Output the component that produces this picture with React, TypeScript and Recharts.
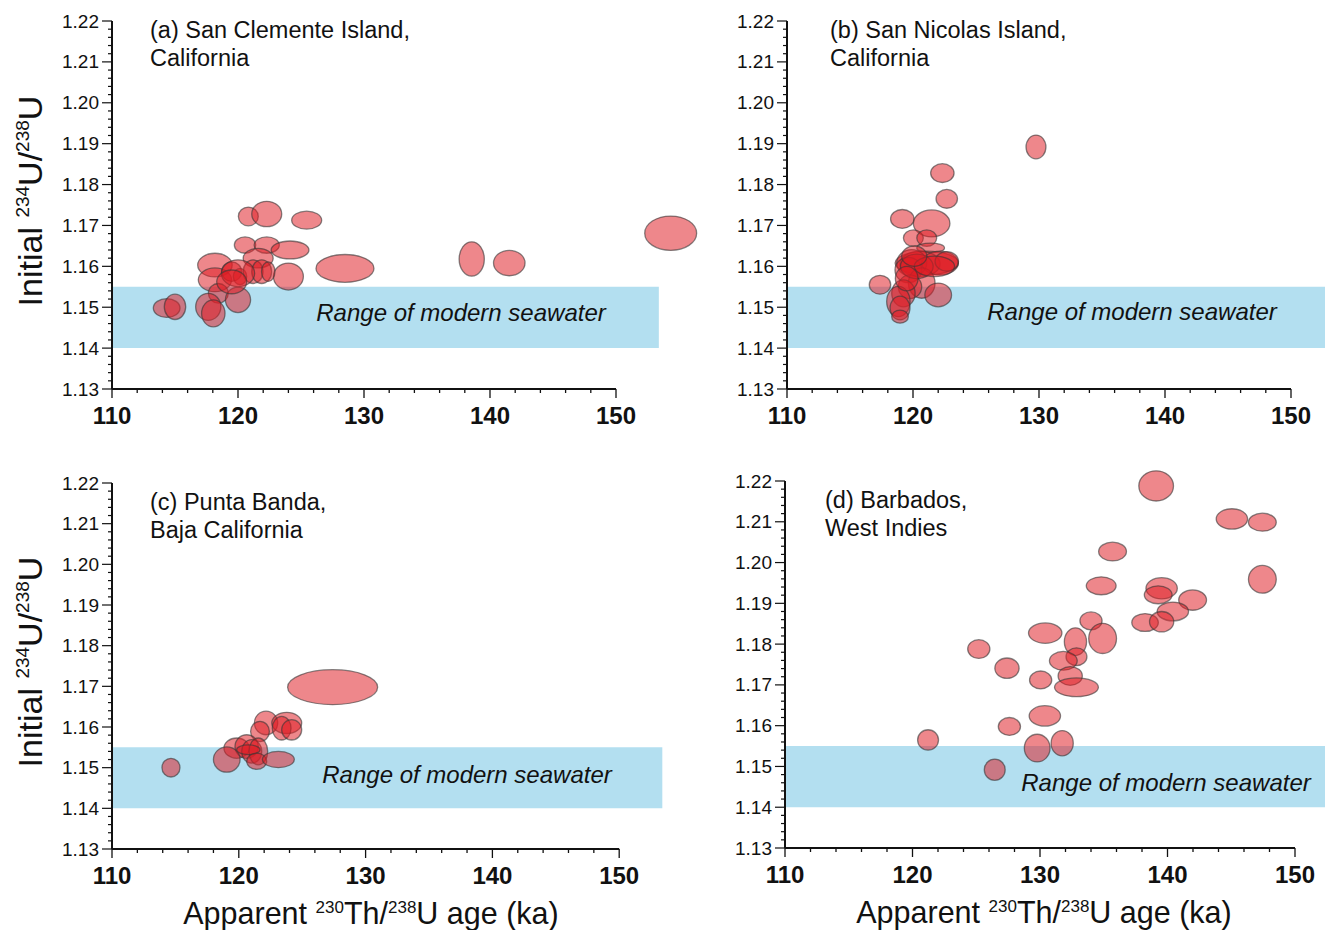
import React from 'react';
import { ScatterChart, Scatter, XAxis, YAxis, ReferenceArea, ReferenceLine, Label } from 'recharts';

// ---------- data (ages in ka, initial 234U/238U, half-widths of ellipses) ----------
const aAge = [120.82, 122.28, 125.45, 120.56, 122.28, 124.13, 128.49, 118.17, 121.6, 124.0, 118.17, 119.5, 120.16, 121.2, 121.88, 122.4, 120.0, 118.44, 120.0, 114.34, 115.0, 117.64, 118.04, 119.5, 138.55, 141.53, 154.34];
const aRatio = [1.1722, 1.1728, 1.1713, 1.1652, 1.1652, 1.164, 1.1595, 1.1603, 1.162, 1.1575, 1.1567, 1.1587, 1.1575, 1.1587, 1.1587, 1.1587, 1.1583, 1.1534, 1.1518, 1.1498, 1.1501, 1.1501, 1.1485, 1.1562, 1.1618, 1.1608, 1.1681];
const aAgeErr = [0.79, 1.19, 1.19, 0.85, 1.0, 1.5, 2.3, 1.37, 1.19, 1.19, 1.32, 0.79, 0.53, 0.79, 0.79, 0.53, 1.32, 0.79, 1.0, 1.06, 0.85, 1.0, 0.93, 1.19, 1.0, 1.25, 2.06];
const aRatioErr = [0.0023, 0.0031, 0.0022, 0.002, 0.002, 0.0022, 0.0034, 0.0029, 0.0024, 0.0033, 0.0029, 0.0024, 0.002, 0.0029, 0.0029, 0.0024, 0.0033, 0.0024, 0.0031, 0.0023, 0.0031, 0.0033, 0.0033, 0.0029, 0.0042, 0.0031, 0.0042];

const bAge = [122.33, 122.68, 119.15, 121.48, 120.03, 121.09, 121.4, 121.09, 120.56, 119.9, 122.14, 122.68, 119.63, 120.69, 119.76, 117.38, 122.0, 119.24, 118.84, 118.97, 118.97, 129.76, 120.3, 121.7, 119.5, 120.1];
const bRatio = [1.1828, 1.1765, 1.1716, 1.1705, 1.1669, 1.1669, 1.1645, 1.1608, 1.1606, 1.1608, 1.1608, 1.1612, 1.1591, 1.1559, 1.155, 1.1555, 1.153, 1.1534, 1.1514, 1.1498, 1.1477, 1.1892, 1.16, 1.16, 1.157, 1.1625];
const bAgeErr = [0.93, 0.85, 0.93, 1.45, 0.79, 0.79, 1.1, 2.51, 1.59, 1.19, 1.45, 0.93, 1.06, 1.06, 0.93, 0.85, 1.06, 0.93, 0.93, 0.79, 0.66, 0.79, 1.3, 1.6, 0.9, 1.0];
const bRatioErr = [0.0023, 0.0023, 0.0023, 0.0033, 0.002, 0.002, 0.0012, 0.0029, 0.0031, 0.0033, 0.0029, 0.0024, 0.0031, 0.0037, 0.0029, 0.0023, 0.0029, 0.0033, 0.0037, 0.0029, 0.0016, 0.0029, 0.003, 0.0025, 0.003, 0.0025];

const cAge = [127.4, 122.15, 123.78, 121.67, 123.38, 124.17, 119.83, 120.62, 121.02, 121.54, 120.75, 119.05, 121.41, 123.12, 114.65];
const cRatio = [1.1698, 1.161, 1.161, 1.1589, 1.1597, 1.1593, 1.1548, 1.1552, 1.154, 1.154, 1.1544, 1.152, 1.1516, 1.152, 1.15];
const cAgeErr = [3.55, 0.92, 1.18, 0.74, 0.74, 0.79, 1.0, 0.92, 0.79, 0.74, 0.92, 1.05, 0.79, 1.26, 0.71];
const cRatioErr = [0.0043, 0.0029, 0.0026, 0.0025, 0.0029, 0.0025, 0.0025, 0.0029, 0.0029, 0.0033, 0.0012, 0.0031, 0.002, 0.002, 0.0023];

const dAge = [139.11, 145.05, 147.44, 147.44, 135.69, 134.8, 139.54, 139.27, 141.97, 140.42, 138.24, 139.54, 134.0, 130.41, 132.78, 134.91, 125.2, 132.86, 131.83, 127.41, 132.37, 132.86, 130.05, 130.38, 127.6, 121.22, 129.78, 131.74, 126.45];
const dRatio = [1.2188, 1.2107, 1.2099, 1.1959, 1.2027, 1.1943, 1.1937, 1.1921, 1.1908, 1.188, 1.1853, 1.1855, 1.1857, 1.1827, 1.1806, 1.1814, 1.1788, 1.1769, 1.1759, 1.1741, 1.1722, 1.1694, 1.1712, 1.1624, 1.1598, 1.1565, 1.1545, 1.1557, 1.1492];
const dAgeErr = [1.36, 1.23, 1.09, 1.09, 1.09, 1.17, 1.23, 1.09, 1.09, 1.23, 1.04, 0.95, 0.87, 1.31, 0.87, 1.09, 0.87, 0.82, 1.09, 0.95, 0.95, 1.72, 0.87, 1.23, 0.87, 0.82, 1.01, 0.87, 0.82];
const dRatioErr = [0.0037, 0.0025, 0.0022, 0.0034, 0.0023, 0.0022, 0.0026, 0.0022, 0.0025, 0.0023, 0.0022, 0.0025, 0.0022, 0.0025, 0.0034, 0.0037, 0.0023, 0.0022, 0.0023, 0.0025, 0.0023, 0.0023, 0.0022, 0.0025, 0.0022, 0.0025, 0.0034, 0.0031, 0.0026];

const xTicks = [110, 112, 114, 116, 118, 120, 122, 124, 126, 128, 130, 132, 134, 136, 138, 140, 142, 144, 146, 148, 150];
const xMajorTicks = [110, 120, 130, 140, 150];
const yMajorTicks = [1.13, 1.14, 1.15, 1.16, 1.17, 1.18, 1.19, 1.2, 1.21, 1.22];
const yTicks: number[] = [];
for (let k = 0; k <= 45; k++) yTicks.push(Math.round((1.13 + k * 0.002) * 1000) / 1000);

const seawaterBand = [1.14, 1.155];

// ---------- layout ----------
const FONT = '"Liberation Sans", Arial, Helvetica, sans-serif';
const X_MIN = 110;
const X_MAX = 156;
const X_AXIS_END = 150;
const BAND_END = 153.4;
const Y_MIN = 1.13;
const Y_MAX = 1.22;
const CW = 1400;
const CH = 930;
const YW = 60;
const XH = 40;

type Pt = { x: number; y: number; ex: number; ey: number };
const build = (ages: number[], ratios: number[], ae: number[], re: number[]): Pt[] =>
  ages.map((a, i) => ({ x: a, y: ratios[i], ex: ae[i], ey: re[i] }));

type PanelCfg = {
  data: Pt[];
  left: number;
  top: number;
  plotW: number;
  plotH: number;
  title: string[];
  titleDx: number;
  titleDy: number;
  seaDx: number;
  seaDy: number;
  yTitle: boolean;
  xTitle: boolean;
  xTitleDy: number;
};

const panels: PanelCfg[] = [
  { data: build(aAge, aRatio, aAgeErr, aRatioErr), left: 112, top: 21, plotW: 46 * 12.6, plotH: 368, title: ['(a) San Clemente Island,', 'California'], titleDx: 38, titleDy: 17, seaDx: 349, seaDy: 300, yTitle: true, xTitle: false, xTitleDy: 0 },
  { data: build(bAge, bRatio, bAgeErr, bRatioErr), left: 787, top: 21, plotW: 46 * 12.6, plotH: 368, title: ['(b) San Nicolas Island,', 'California'], titleDx: 43, titleDy: 17, seaDx: 345, seaDy: 299, yTitle: false, xTitle: false, xTitleDy: 0 },
  { data: build(cAge, cRatio, cAgeErr, cRatioErr), left: 112, top: 483, plotW: 46 * 12.68, plotH: 366, title: ['(c) Punta Banda,', 'Baja California'], titleDx: 38, titleDy: 27, seaDx: 355, seaDy: 300, yTitle: true, xTitle: true, xTitleDy: 75 },
  { data: build(dAge, dRatio, dAgeErr, dRatioErr), left: 785, top: 481, plotW: 46 * 12.75, plotH: 367, title: ['(d) Barbados,', 'West Indies'], titleDx: 40, titleDy: 27, seaDx: 381, seaDy: 310, yTitle: false, xTitle: true, xTitleDy: 75 },
];

const XTick = (props: any) => {
  const { x, y, payload } = props;
  const v = payload.value;
  const major = xMajorTicks.includes(v);
  return (
    <g>
      <line x1={x} x2={x} y1={y} y2={y + (major ? 9 : 4)} stroke="#111" strokeWidth={1.3} />
      {major && (
        <text x={x} y={y + 35} textAnchor="middle" fontSize={24} fontWeight="bold" fontFamily={FONT} fill="#111">
          {v}
        </text>
      )}
    </g>
  );
};

const YTick = (props: any) => {
  const { x, y, payload } = props;
  const v = payload.value;
  const major = yMajorTicks.some((m) => Math.abs(m - v) < 1e-6);
  return (
    <g>
      <line x1={x - (major ? 10 : 4)} x2={x} y1={y} y2={y} stroke="#111" strokeWidth={1.2} />
      {major && (
        <text x={x - 13} y={y + 6.5} textAnchor="end" fontSize={19} fontFamily={FONT} fill="#111">
          {v.toFixed(2)}
        </text>
      )}
    </g>
  );
};

function Panel({ cfg }: { cfg: PanelCfg }) {
  const { data, left, top, plotW, plotH } = cfg;
  const kx = plotW / (X_MAX - X_MIN);
  const ky = plotH / (Y_MAX - Y_MIN);
  const margin = { top, left: left - YW, right: CW - left - plotW, bottom: CH - top - plotH - XH };

  const renderEllipse = (p: any) => {
    const d = p.payload ?? p;
    return (
      <ellipse
        cx={p.cx}
        cy={p.cy}
        rx={d.ex * kx}
        ry={d.ey * ky}
        fill="rgb(222,28,36)"
        fillOpacity={0.53}
        stroke="rgb(55,55,55)"
        strokeOpacity={0.6}
        strokeWidth={1.3}
      />
    );
  };

  const yMid = top + plotH / 2 - 4;

  const renderTexts = () => (
    <g fontFamily={FONT} fill="#111">
      {cfg.title.map((t, i) => (
        <text key={i} x={left + cfg.titleDx} y={top + cfg.titleDy + i * 28} fontSize={23.5}>
          {t}
        </text>
      ))}
      <text x={left + cfg.seaDx} y={top + cfg.seaDy} fontSize={24} fontStyle="italic" textAnchor="middle">
        Range of modern seawater
      </text>
      {cfg.yTitle && (
        <text x={42} y={yMid} transform={`rotate(-90 42 ${yMid})`} textAnchor="middle" fontSize={34}>
          Initial <tspan fontSize={19} dy={-13}>234</tspan>
          <tspan dy={13}>U/</tspan>
          <tspan fontSize={19} dy={-13}>238</tspan>
          <tspan dy={13}>U</tspan>
        </text>
      )}
      {cfg.xTitle && (
        <text x={left + 259} y={top + plotH + cfg.xTitleDy} textAnchor="middle" fontSize={30.5}>
          Apparent <tspan fontSize={17} dy={-11}>230</tspan>
          <tspan dy={11}>Th/</tspan>
          <tspan fontSize={17} dy={-11}>238</tspan>
          <tspan dy={11}>U age (ka)</tspan>
        </text>
      )}
    </g>
  );

  return (
    <div style={{ position: 'absolute', left: 0, top: 0 }}>
      <ScatterChart width={CW} height={CH} margin={margin}>
        <XAxis
          type="number"
          dataKey="x"
          domain={[X_MIN, X_MAX]}
          ticks={xTicks}
          interval={0}
          axisLine={false}
          tickLine={false}
          tickSize={0}
          tickMargin={0}
          tick={<XTick />}
          height={XH}
        />
        <YAxis
          type="number"
          dataKey="y"
          domain={[Y_MIN, Y_MAX]}
          ticks={yTicks}
          interval={0}
          axisLine={{ stroke: '#111', strokeWidth: 2 }}
          tickLine={false}
          tickSize={0}
          tickMargin={0}
          tick={<YTick />}
          width={YW}
        >
          <Label content={renderTexts} />
        </YAxis>
        <ReferenceArea x1={X_MIN} x2={BAND_END} y1={seawaterBand[0]} y2={seawaterBand[1]} fill="#b3dff0" fillOpacity={1} stroke="none" />
        <ReferenceLine segment={[{ x: X_MIN, y: Y_MIN }, { x: X_AXIS_END, y: Y_MIN }]} stroke="#111" strokeWidth={2} />
        <Scatter data={data} isAnimationActive={false} shape={renderEllipse} />
      </ScatterChart>
    </div>
  );
}

export default function App() {
  return (
    <div style={{ position: 'absolute', left: 0, top: 0, width: 1325, height: 930, overflow: 'hidden', background: '#fff' }}>
      {panels.map((p, i) => (
        <Panel key={i} cfg={p} />
      ))}
    </div>
  );
}
